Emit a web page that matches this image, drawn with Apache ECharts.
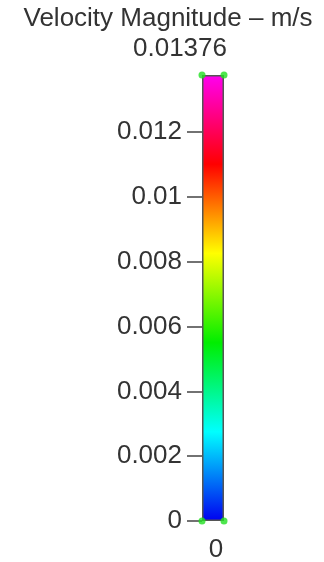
<!DOCTYPE html>
<html>
<head>
<meta charset="utf-8">
<script src="https://cdn.jsdelivr.net/npm/echarts@6/dist/echarts.min.js"></script>
<style>
html,body{margin:0;padding:0;background:#fff;}
#chart{width:324px;height:562px;}
</style>
</head>
<body>
<div id="chart"></div>
<script>
const titleText = 'Velocity Magnitude \u2013 m/s';
const minValue = 0;
const maxValue = 0.01376;
const tickInterval = 0.002;
const barCategory = ['Velocity Magnitude'];
const barValues = [maxValue];
const cornerValues = [minValue, maxValue];
const colorStops = ['#ff00f0', '#ff0000', '#ffff00', '#00ee00', '#00ffff', '#0000f0'];

const fontFamily = '"Liberation Sans", Arial, sans-serif';
const textColor = '#333333';

const chart = echarts.init(document.getElementById('chart'), null, {renderer: 'canvas'});

const corners = [];
cornerValues.forEach(v => { corners.push([0, v]); corners.push([1, v]); });

const option = {
  animation: false,
  backgroundColor: '#ffffff',
  grid: {left: 202, width: 22, top: 75, bottom: 41},
  xAxis: [
    {type: 'category', data: barCategory, show: false},
    {type: 'value', min: 0, max: 1, show: false}
  ],
  yAxis: {
    type: 'value',
    min: minValue,
    max: maxValue,
    interval: tickInterval,
    splitLine: {show: false},
    axisLine: {show: false},
    axisTick: {show: true, length: 15, lineStyle: {color: '#444', width: 1.5}},
    axisLabel: {
      showMaxLabel: false,
      margin: 20,
      color: textColor,
      fontSize: 26,
      fontFamily: fontFamily
    }
  },
  graphic: [
    {type: 'text', x: 168, y: 19, style: {text: titleText, textAlign: 'center', textVerticalAlign: 'middle', fontSize: 26, fontFamily: fontFamily, fill: textColor}},
    {type: 'text', x: 180, y: 49, style: {text: String(maxValue), textAlign: 'center', textVerticalAlign: 'middle', fontSize: 26, fontFamily: fontFamily, fill: textColor}},
    {type: 'text', x: 216, y: 550, style: {text: String(minValue), textAlign: 'center', textVerticalAlign: 'middle', fontSize: 26, fontFamily: fontFamily, fill: textColor}}
  ],
  series: [
    {
      type: 'bar',
      xAxisIndex: 0,
      data: barValues,
      barWidth: '100%',
      itemStyle: {
        borderColor: '#555',
        borderWidth: 1.5,
        borderRadius: 0,
        color: new echarts.graphic.LinearGradient(0, 0, 0, 1,
          colorStops.map((c, i) => ({offset: i / (colorStops.length - 1), color: c})))
      },
      z: 2
    },
    {
      type: 'scatter',
      xAxisIndex: 1,
      data: corners,
      symbolSize: 7,
      itemStyle: {color: '#22e022'},
      z: 5
    }
  ]
};
chart.setOption(option);
</script>
</body>
</html>
